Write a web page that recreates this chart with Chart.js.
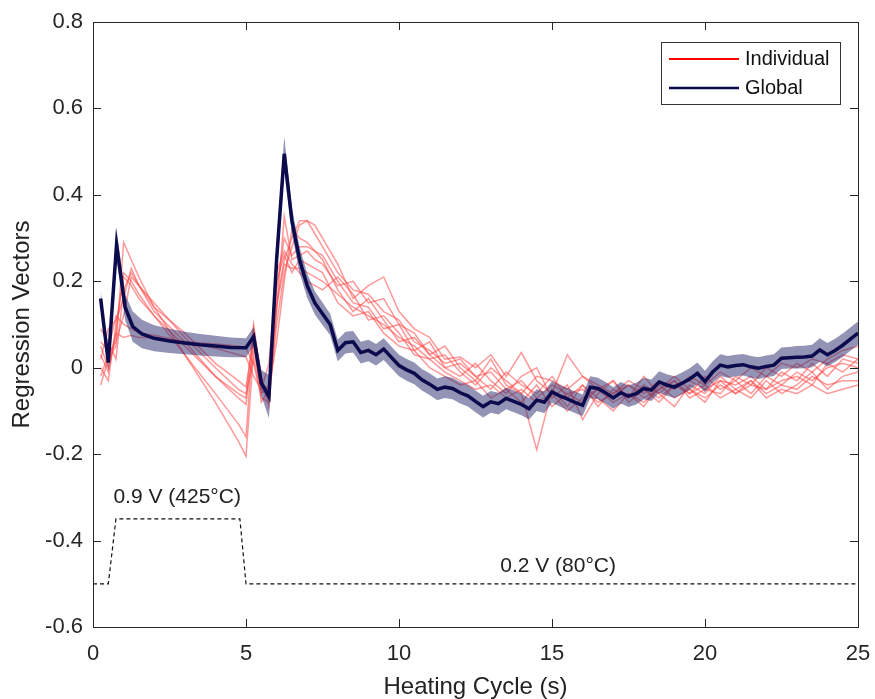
<!DOCTYPE html>
<html lang="en">
<head>
<meta charset="UTF-8">
<title>Regression Vectors</title>
<script src="https://cdn.jsdelivr.net/npm/chart.js"></script>
<style>
  html, body { margin: 0; padding: 0; background: #fff; }
  #wrap { width: 875px; height: 699px; }
</style>
</head>
<body>
<div id="wrap"><canvas id="regChart"></canvas></div>
<script>
// ---- data ----
const xTicks = [0, 5, 10, 15, 20, 25];
const yTicks = [-0.6, -0.4, -0.2, 0, 0.2, 0.4, 0.6, 0.8];

// global regression vector (mean) and its shaded spread
const globalX = [0.25, 0.5, 0.77, 1.05, 1.3, 1.6, 2, 2.5, 3, 3.5, 4, 4.5, 5, 5.25, 5.5, 5.75, 6, 6.25, 6.5, 6.75, 7, 7.25, 7.5, 7.75,
  8, 8.25, 8.5, 8.75, 9, 9.25, 9.5, 9.75, 10, 10.25, 10.5, 10.75, 11, 11.25, 11.5, 11.75, 12, 12.25, 12.5, 12.75,
  13, 13.25, 13.5, 13.75, 14, 14.25, 14.5, 14.75, 15, 15.25, 15.5, 15.75, 16, 16.25, 16.5, 16.75, 17, 17.25, 17.5, 17.75,
  18, 18.25, 18.5, 18.75, 19, 19.25, 19.5, 19.75, 20, 20.25, 20.5, 20.75, 21, 21.25, 21.5, 21.75, 22, 22.25, 22.5, 22.75,
  23, 23.25, 23.5, 23.75, 24, 24.25, 24.5, 24.75, 25];
const globalY = [0.16, 0.012, 0.285, 0.14, 0.095, 0.078, 0.068, 0.062, 0.057, 0.053, 0.05, 0.047, 0.046, 0.072, -0.035, -0.067, 0.25, 0.495, 0.34, 0.25, 0.19, 0.15, 0.125, 0.10,
  0.04, 0.058, 0.06, 0.035, 0.04, 0.03, 0.043, 0.024, 0.005, -0.005, -0.013, -0.028, -0.038, -0.05, -0.045, -0.048, -0.058, -0.065, -0.078, -0.09,
  -0.079, -0.083, -0.071, -0.078, -0.085, -0.095, -0.075, -0.08, -0.056, -0.065, -0.072, -0.08, -0.087, -0.045, -0.048, -0.058, -0.07, -0.058, -0.066, -0.06,
  -0.048, -0.052, -0.033, -0.04, -0.045, -0.036, -0.026, -0.013, -0.032, -0.01, 0.006, 0.002, 0.005, 0.007, 0.002, -0.001, 0.003, 0.006, 0.022, 0.023,
  0.024, 0.025, 0.027, 0.041, 0.03, 0.04, 0.052, 0.066, 0.08];
const globalErr = [0.02, 0.02, 0.035, 0.03, 0.035, 0.033, 0.03, 0.028, 0.026, 0.025, 0.024, 0.023, 0.022, 0.022, 0.03, 0.05, 0.04, 0.04, 0.03, 0.03, 0.028, 0.027, 0.026, 0.025,
  0.025, 0.025, 0.025, 0.025, 0.025, 0.025, 0.025, 0.025, 0.025, 0.025, 0.025, 0.025, 0.025, 0.025, 0.025, 0.025, 0.025, 0.025, 0.025, 0.025,
  0.025, 0.025, 0.025, 0.025, 0.025, 0.025, 0.025, 0.025, 0.025, 0.025, 0.025, 0.025, 0.025, 0.025, 0.025, 0.025, 0.025, 0.025, 0.025, 0.025,
  0.025, 0.025, 0.025, 0.025, 0.025, 0.025, 0.025, 0.025, 0.025, 0.025, 0.025, 0.025, 0.025, 0.025, 0.025, 0.025, 0.025, 0.025, 0.025, 0.025,
  0.026, 0.026, 0.026, 0.027, 0.027, 0.027, 0.027, 0.027, 0.027];

// individual regression vectors
const indX = [0.25, 0.5, 0.75, 1, 1.25, 1.5, 2, 3, 4, 4.75, 5, 5.25, 5.5, 5.75, 6, 6.25, 6.5, 6.75, 7, 7.25,
  7.5, 8, 8.5, 9, 9.5, 10, 10.5, 11, 11.5, 12, 12.5, 13, 13.5, 14, 14.5, 15, 15.5, 16, 16.5, 17, 17.5, 18,
  18.5, 19, 19.5, 20, 20.5, 21, 21.5, 22, 22.5, 23, 23.5, 24, 24.5, 25];
const individual1 = [-0.04, 0.02, 0.05, 0.29, 0.25, 0.21, 0.14, 0.03, -0.08, -0.17, -0.205, 0.04, -0.05, -0.07, 0.10, 0.22, 0.28, 0.33, 0.34, 0.31,
  0.28, 0.22, 0.18, 0.17, 0.13, 0.11, 0.06, 0.04, 0.01, 0.02, -0.02, -0.01, -0.05, -0.03, -0.07, -0.04, -0.06, -0.08, -0.05, -0.07, -0.04, -0.06,
  -0.03, -0.05, -0.02, -0.04, -0.01, -0.03, 0.00, -0.02, 0.01, 0.00, 0.02, 0.01, 0.03, 0.02];
const individual2 = [0.05, 0.0, 0.08, 0.22, 0.20, 0.17, 0.12, 0.03, -0.06, -0.13, -0.16, 0.09, -0.02, -0.09, 0.13, 0.35, 0.25, 0.26, 0.27, 0.25,
  0.24, 0.19, 0.20, 0.15, 0.16, 0.10, 0.08, 0.03, 0.05, 0.00, -0.03, 0.02, -0.04, -0.06, -0.19, -0.05, -0.09, -0.04, -0.07, -0.10, -0.06, -0.08,
  -0.05, -0.03, -0.06, -0.04, -0.07, -0.05, -0.03, -0.06, -0.04, -0.05, -0.02, -0.04, -0.03, -0.03];
const individual3 = [0.0, -0.03, 0.10, 0.21, 0.19, 0.16, 0.12, 0.05, -0.02, -0.07, -0.085, 0.06, -0.04, -0.05, 0.15, 0.25, 0.30, 0.34, 0.34, 0.33,
  0.30, 0.24, 0.16, 0.19, 0.21, 0.13, 0.09, 0.07, 0.02, 0.025, 0.00, 0.03, -0.02, 0.035, -0.03, -0.06, 0.03, -0.02, -0.05, -0.03, -0.08, -0.05,
  -0.07, -0.04, -0.06, -0.02, -0.05, -0.03, -0.06, -0.02, -0.04, -0.01, -0.03, 0.00, 0.01, 0.00];
const individual4 = [0.09, 0.06, 0.02, 0.18, 0.22, 0.19, 0.13, 0.06, -0.02, -0.06, -0.07, 0.10, -0.03, -0.06, 0.14, 0.24, 0.23, 0.23, 0.22, 0.21,
  0.20, 0.17, 0.14, 0.12, 0.10, 0.07, 0.05, 0.02, -0.01, -0.03, -0.05, -0.04, -0.07, -0.05, -0.08, -0.06, -0.10, -0.07, -0.05, -0.08, -0.06, -0.09,
  -0.04, -0.07, -0.05, -0.08, -0.03, -0.06, -0.04, -0.05, -0.03, -0.02, -0.04, 0.01, -0.01, 0.02];
const individual5 = [-0.02, 0.03, 0.06, 0.12, 0.21, 0.19, 0.15, 0.07, 0.00, -0.05, -0.06, 0.02, -0.06, -0.04, 0.18, 0.30, 0.26, 0.28, 0.28, 0.27,
  0.26, 0.20, 0.15, 0.14, 0.09, 0.10, 0.04, 0.06, 0.00, -0.02, 0.01, -0.03, -0.06, -0.02, 0.00, -0.07, -0.04, -0.12, -0.06, -0.03, -0.07, -0.02,
  -0.06, -0.09, -0.04, -0.06, -0.02, -0.05, -0.07, -0.03, -0.06, -0.04, -0.01, -0.05, -0.02, -0.01];
const individual6 = [0.03, -0.01, 0.08, 0.07, 0.075, 0.07, 0.07, 0.06, 0.055, 0.05, 0.045, 0.01, -0.07, -0.08, 0.20, 0.26, 0.22, 0.25, 0.24, 0.23,
  0.22, 0.15, 0.12, 0.13, 0.08, 0.05, 0.04, 0.00, -0.02, -0.04, -0.03, -0.07, -0.05, -0.08, -0.04, -0.09, -0.06, -0.05, -0.08, -0.06, -0.04, -0.07,
  -0.05, -0.02, -0.05, -0.07, -0.04, -0.06, -0.03, -0.07, -0.05, -0.06, -0.04, -0.06, -0.05, -0.04];
const individual7 = [0.06, 0.04, 0.12, 0.10, 0.09, 0.08, 0.075, 0.06, 0.045, 0.03, 0.025, -0.02, -0.05, 0.01, 0.22, 0.27, 0.24, 0.22, 0.20, 0.19,
  0.18, 0.21, 0.17, 0.11, 0.12, 0.08, 0.03, 0.02, 0.03, -0.01, -0.04, 0.00, -0.03, -0.06, -0.02, -0.03, -0.05, -0.02, -0.04, -0.06, -0.03, -0.05,
  -0.08, -0.04, -0.03, -0.05, -0.06, -0.02, -0.04, 0.00, -0.02, 0.01, -0.01, 0.02, 0.04, 0.05];
const individual8 = [0.02, 0.09, 0.11, 0.16, 0.23, 0.19, 0.14, 0.08, 0.01, -0.03, -0.045, 0.07, -0.08, -0.05, 0.06, 0.20, 0.32, 0.30, 0.29, 0.27,
  0.25, 0.18, 0.13, 0.16, 0.11, 0.06, 0.07, 0.03, 0.00, 0.01, -0.02, -0.05, -0.01, -0.04, -0.06, -0.02, -0.07, -0.04, -0.09, -0.05, -0.07, -0.04,
  -0.06, -0.03, -0.07, -0.05, -0.03, -0.04, -0.02, -0.05, -0.01, -0.03, 0.01, -0.02, 0.02, 0.01];
const individuals = [individual1, individual2, individual3, individual4, individual5, individual6, individual7, individual8];

// heater voltage profile (dashed)
const heaterX = [0, 0.5, 0.75, 4.8, 5.0, 25];
const heaterY = [-0.5, -0.5, -0.35, -0.35, -0.5, -0.5];

const notes = [
  { text: '0.9 V (425\u00B0C)', x: 2.75, y: -0.30 },
  { text: '0.2 V (80\u00B0C)', x: 15.2, y: -0.46 }
];

const FONT = "'Liberation Sans', Arial, sans-serif";
const AXIS = '#262626';

const pts = (xs, ys) => xs.map((x, i) => ({ x: x, y: ys[i] }));

const datasets = [];
individuals.forEach((vals, k) => {
  datasets.push({
    label: 'Individual ' + (k + 1),
    data: pts(indX, vals),
    borderColor: 'rgba(255, 70, 70, 0.55)',
    borderWidth: 1.5,
    pointRadius: 0,
    fill: false,
    order: 3
  });
});
datasets.push({
  label: 'band low',
  data: pts(globalX, globalY.map((v, i) => v - globalErr[i])),
  borderWidth: 0,
  borderColor: 'rgba(0,0,0,0)',
  pointRadius: 0,
  fill: false,
  order: 2
});
datasets.push({
  label: 'band high',
  data: pts(globalX, globalY.map((v, i) => v + globalErr[i])),
  borderWidth: 0,
  borderColor: 'rgba(0,0,0,0)',
  backgroundColor: 'rgba(40, 40, 110, 0.5)',
  pointRadius: 0,
  fill: '-1',
  order: 2
});
datasets.push({
  label: 'Global',
  data: pts(globalX, globalY),
  borderColor: '#0b0b4d',
  borderWidth: 3.5,
  pointRadius: 0,
  fill: false,
  order: 1
});
datasets.push({
  label: 'heater',
  data: pts(heaterX, heaterY),
  borderColor: '#111',
  borderWidth: 1.2,
  borderDash: [4, 3],
  pointRadius: 0,
  fill: false,
  order: 0
});

// matlab-like box, inward ticks, notes and legend
const decor = {
  id: 'decor',
  afterDraw(chart) {
    const ctx = chart.ctx;
    const a = chart.chartArea;
    const xs = chart.scales.x, ys = chart.scales.y;
    ctx.save();
    ctx.strokeStyle = AXIS;
    ctx.lineWidth = 1;
    ctx.strokeRect(a.left + 0.5, a.top + 0.5, a.right - a.left, a.bottom - a.top);
    ctx.beginPath();
    xTicks.forEach(t => {
      const px = Math.round(xs.getPixelForValue(t)) + 0.5;
      ctx.moveTo(px, a.bottom); ctx.lineTo(px, a.bottom - 8);
      ctx.moveTo(px, a.top); ctx.lineTo(px, a.top + 8);
    });
    yTicks.forEach(t => {
      const py = Math.round(ys.getPixelForValue(t)) + 0.5;
      ctx.moveTo(a.left, py); ctx.lineTo(a.left + 8, py);
      ctx.moveTo(a.right, py); ctx.lineTo(a.right - 8, py);
    });
    ctx.stroke();

    ctx.fillStyle = '#222';
    ctx.font = '21px ' + FONT;
    ctx.textAlign = 'center';
    ctx.textBaseline = 'middle';
    notes.forEach(n => ctx.fillText(n.text, xs.getPixelForValue(n.x), ys.getPixelForValue(n.y)));

    // legend box
    const lw = 179, lh = 62;
    const lx = a.right - 18 - lw, ly = a.top + 20;
    ctx.fillStyle = '#fff';
    ctx.fillRect(lx, ly, lw, lh);
    ctx.strokeStyle = '#333';
    ctx.lineWidth = 1;
    ctx.strokeRect(lx + 0.5, ly + 0.5, lw, lh);
    const rows = [{ t: 'Individual', c: '#ff0000', w: 2 }, { t: 'Global', c: '#0b0b4d', w: 2.5 }];
    rows.forEach((r, i) => {
      const yy = ly + 17 + i * 29;
      ctx.strokeStyle = r.c; ctx.lineWidth = r.w;
      ctx.beginPath(); ctx.moveTo(lx + 8, yy); ctx.lineTo(lx + 78, yy); ctx.stroke();
      ctx.fillStyle = '#111';
      ctx.textAlign = 'left';
      ctx.font = '20px ' + FONT;
      ctx.fillText(r.t, lx + 84, yy);
    });
    ctx.restore();
  }
};

new Chart(document.getElementById('regChart'), {
  type: 'line',
  data: { datasets: datasets },
  plugins: [decor],
  options: {
    responsive: true,
    maintainAspectRatio: false,
    animation: false,
    layout: { padding: { top: 22, right: 17, left: 0, bottom: 0 } },
    plugins: { legend: { display: false }, tooltip: { enabled: false } },
    elements: { line: { tension: 0 } },
    scales: {
      x: {
        type: 'linear',
        min: 0, max: 25,
        grid: { display: false, drawTicks: false },
        border: { display: false },
        afterFit: s => { s.height = 72; s.paddingLeft = 0; s.paddingRight = 0; },
        afterBuildTicks: s => { s.ticks = xTicks.map(v => ({ value: v })); },
        ticks: { color: AXIS, font: { family: FONT, size: 22 }, padding: 14, maxRotation: 0 },
        title: { display: true, text: 'Heating Cycle (s)', color: '#222', font: { family: FONT, size: 24, lineHeight: 1 }, padding: { top: 0, bottom: 0 } }
      },
      y: {
        min: -0.6, max: 0.8,
        grid: { display: false, drawTicks: false },
        border: { display: false },
        afterFit: s => { s.width = 93; s.paddingTop = 0; s.paddingBottom = 0; },
        afterBuildTicks: s => { s.ticks = yTicks.map(v => ({ value: v })); },
        ticks: { color: AXIS, font: { family: FONT, size: 22 }, padding: 10, callback: v => String(Math.round(v * 10) / 10) },
        title: { display: true, text: 'Regression Vectors', color: '#222', font: { family: FONT, size: 24, lineHeight: 1 }, padding: { top: 10, bottom: 0 } }
      }
    }
  }
});
</script>
</body>
</html>
